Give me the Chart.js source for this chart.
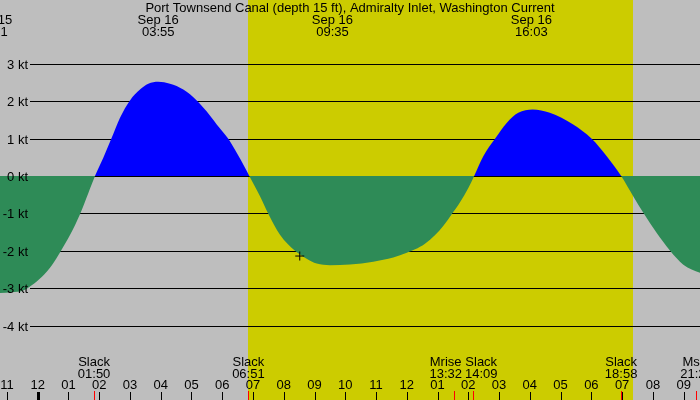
<!DOCTYPE html>
<html>
<head>
<meta charset="utf-8">
<script src="https://cdn.jsdelivr.net/npm/chart.js@4/dist/chart.umd.min.js"></script>
<style>
  html, body { margin: 0; padding: 0; background: #bebebe; }
  #wrap { width: 700px; height: 400px; }
</style>
</head>
<body>
<div id="wrap"><canvas id="c" width="700" height="400"></canvas></div>
<script>
// ---- Data (hours since 00:00 Sep 16, speed in knots) ----
const hours = [-1.226, -0.85, -0.468, -0.195, 0.13, 0.455, 0.748, 1.05, 1.375, 1.645, 1.863,
  2.133, 2.406, 2.676, 3.0, 3.326, 3.596, 3.92, 4.30, 4.733, 5.17, 5.49, 5.82, 6.196, 6.47, 6.74, 6.88,
  7.227, 7.497, 7.877, 8.365, 8.745, 9.07, 9.503, 10.153, 10.91, 11.56, 12.0, 12.27, 12.59, 12.92, 13.19, 13.46, 13.73, 14.0, 14.19,
  14.487, 14.867, 15.247, 15.624, 16.09, 16.65, 17.41, 18.01, 18.5, 18.97,
  19.36, 19.71, 20.12, 20.56, 20.99, 21.532];
const speeds = [-3.13, -3.11, -3.06, -2.92, -2.70, -2.39, -2.01, -1.58, -1.02, -0.46, 0,
  0.49, 1.02, 1.556, 2.02, 2.31, 2.465, 2.52, 2.465, 2.31, 2.02, 1.73, 1.38, 0.995, 0.62, 0.22, 0,
  -0.54, -1.01, -1.57, -2.0, -2.21, -2.34, -2.385, -2.366, -2.29, -2.18, -2.05, -1.96, -1.81, -1.58, -1.33, -1.02, -0.70, -0.32, 0,
  0.53, 0.995, 1.42, 1.69, 1.78, 1.69, 1.377, 0.995, 0.53, 0,
  -0.54, -1.01, -1.52, -2.0, -2.37, -2.59];

const title = 'Port Townsend Canal (depth 15 ft), Admiralty Inlet, Washington Current';

// Max current events (top labels)
const maxDates = ['Sep 15', 'Sep 16', 'Sep 16', 'Sep 16'];
const maxTimes = ['22:31', '03:55', '09:35', '16:03'];
const maxHours = [-1.5, 3.917, 9.583, 16.05];

// Bottom events
const eventNames = ['Slack', 'Slack', 'Mrise', 'Slack', 'Slack', 'Mset'];
const eventTimes = ['01:50', '06:51', '13:32', '14:09', '18:58', '21:25'];
const eventHours = [1.833, 6.85, 13.533, 14.15, 18.967, 21.417];

// Hour ticks
const hourTicks = [-1, 0, 1, 2, 3, 4, 5, 6, 7, 8, 9, 10, 11, 12, 13, 14, 15, 16, 17, 18, 19, 20, 21];
const hourLabels = ['11', '12', '01', '02', '03', '04', '05', '06', '07', '08', '09', '10',
  '11', '12', '01', '02', '03', '04', '05', '06', '07', '08', '09'];

// Y ticks
const ktTicks = [3, 2, 1, 0, -1, -2, -3, -4];
const ktLabels = ['3 kt', '2 kt', '1 kt', '0 kt', '-1 kt', '-2 kt', '-3 kt', '-4 kt'];

// Daylight and current-time marker
const sunrise = 6.833, sunset = 19.36;
const nowHour = 8.52, nowSpeed = -2.14;

// ---- Chart ----
const FONT = '13px "Liberation Sans", Arial, sans-serif';
const GRAY = '#bebebe', YELLOW = '#cccc00', BLUE = '#0000ff', GREEN = '#2e8b57';

const points = hours.map((h, i) => ({ x: h, y: speeds[i] }));

const drawPlugin = {
  id: 'tideDecor',
  beforeDraw(chart) {
    const ctx = chart.ctx, xs = chart.scales.x;
    ctx.save();
    ctx.fillStyle = GRAY;
    ctx.fillRect(0, 0, chart.width, chart.height);
    const x1 = xs.getPixelForValue(sunrise), x2 = xs.getPixelForValue(sunset);
    ctx.fillStyle = YELLOW;
    ctx.fillRect(Math.round(x1), 0, Math.round(x2) - Math.round(x1), chart.height);
    ctx.restore();
  },
  beforeDatasetsDraw(chart) {
    const ctx = chart.ctx, ys = chart.scales.y;
    ctx.save();
    ctx.strokeStyle = '#000';
    ctx.lineWidth = 1;
    ktTicks.forEach(v => {
      const y = Math.round(ys.getPixelForValue(v)) + 0.5;
      ctx.beginPath();
      ctx.moveTo(30, y);
      ctx.lineTo(chart.width, y);
      ctx.stroke();
    });
    ctx.restore();
  },
  afterDatasetsDraw(chart) {
    const ctx = chart.ctx, xs = chart.scales.x, ys = chart.scales.y;
    ctx.save();
    ctx.font = FONT;
    ctx.fillStyle = '#000';
    // Y labels
    ctx.textAlign = 'right';
    ctx.textBaseline = 'middle';
    ktTicks.forEach((v, i) => {
      const y = Math.round(ys.getPixelForValue(v)) + 1;
      ctx.fillText(ktLabels[i], 28, y);
    });
    // Title
    ctx.textAlign = 'center';
    ctx.textBaseline = 'alphabetic';
    ctx.fillText(title, chart.width / 2, 12);
    // Top max labels
    maxHours.forEach((h, i) => {
      const x = xs.getPixelForValue(h);
      ctx.fillText(maxDates[i], x, 24);
      ctx.fillText(maxTimes[i], x, 36);
    });
    // Bottom event labels with overlap resolution
    const labs = eventHours.map((h, i) => {
      const w = Math.max(ctx.measureText(eventNames[i]).width, ctx.measureText(eventTimes[i]).width);
      return { c: xs.getPixelForValue(h), w, i };
    });
    for (let k = 1; k < labs.length; k++) {
      const a = labs[k - 1], b = labs[k];
      const need = (a.w + b.w) / 2 + 3;
      const d = b.c - a.c;
      if (d < need) { const s = (need - d) / 2; a.c -= s; b.c += s; }
    }
    labs.forEach(l => {
      ctx.fillText(eventNames[l.i], l.c, 366);
      ctx.fillText(eventTimes[l.i], l.c, 378);
    });
    // Hour labels and ticks
    hourTicks.forEach((h, i) => {
      const x = xs.getPixelForValue(h);
      ctx.fillText(hourLabels[i], x, 389);
      const px = Math.round(x);
      if (h === 0) {
        ctx.fillRect(px - 1, 392, 3, 8);
      } else {
        ctx.fillRect(px, 392, 1, 8);
      }
    });
    // Event ticks (red)
    ctx.fillStyle = '#ff0000';
    eventHours.forEach(h => {
      const px = Math.round(xs.getPixelForValue(h));
      ctx.fillRect(px, 391, 1, 9);
    });
    ctx.restore();
  }
};

new Chart(document.getElementById('c'), {
  type: 'line',
  data: {
    datasets: [
      {
        type: 'scatter',
        data: [{ x: nowHour, y: nowSpeed }],
        pointStyle: 'cross',
        pointRadius: 4.5,
        borderColor: '#000',
        backgroundColor: '#000',
        borderWidth: 1,
        showLine: false,
        order: 0
      },
      {
        data: points,
        borderWidth: 0,
        borderColor: 'rgba(0,0,0,0)',
        pointRadius: 0,
        cubicInterpolationMode: 'monotone',
        fill: { target: 'origin', above: BLUE, below: GREEN },
        order: 1
      }
    ]
  },
  options: {
    responsive: false,
    animation: false,
    devicePixelRatio: 1,
    layout: { padding: 0, autoPadding: false },
    plugins: { legend: { display: false }, tooltip: { enabled: false }, title: { display: false } },
    scales: {
      x: { type: 'linear', min: -1.2256, max: 21.532, display: false },
      y: { type: 'linear', min: -224 / 37.4, max: 176 / 37.4, display: false }
    }
  },
  plugins: [drawPlugin]
});
</script>
</body>
</html>
